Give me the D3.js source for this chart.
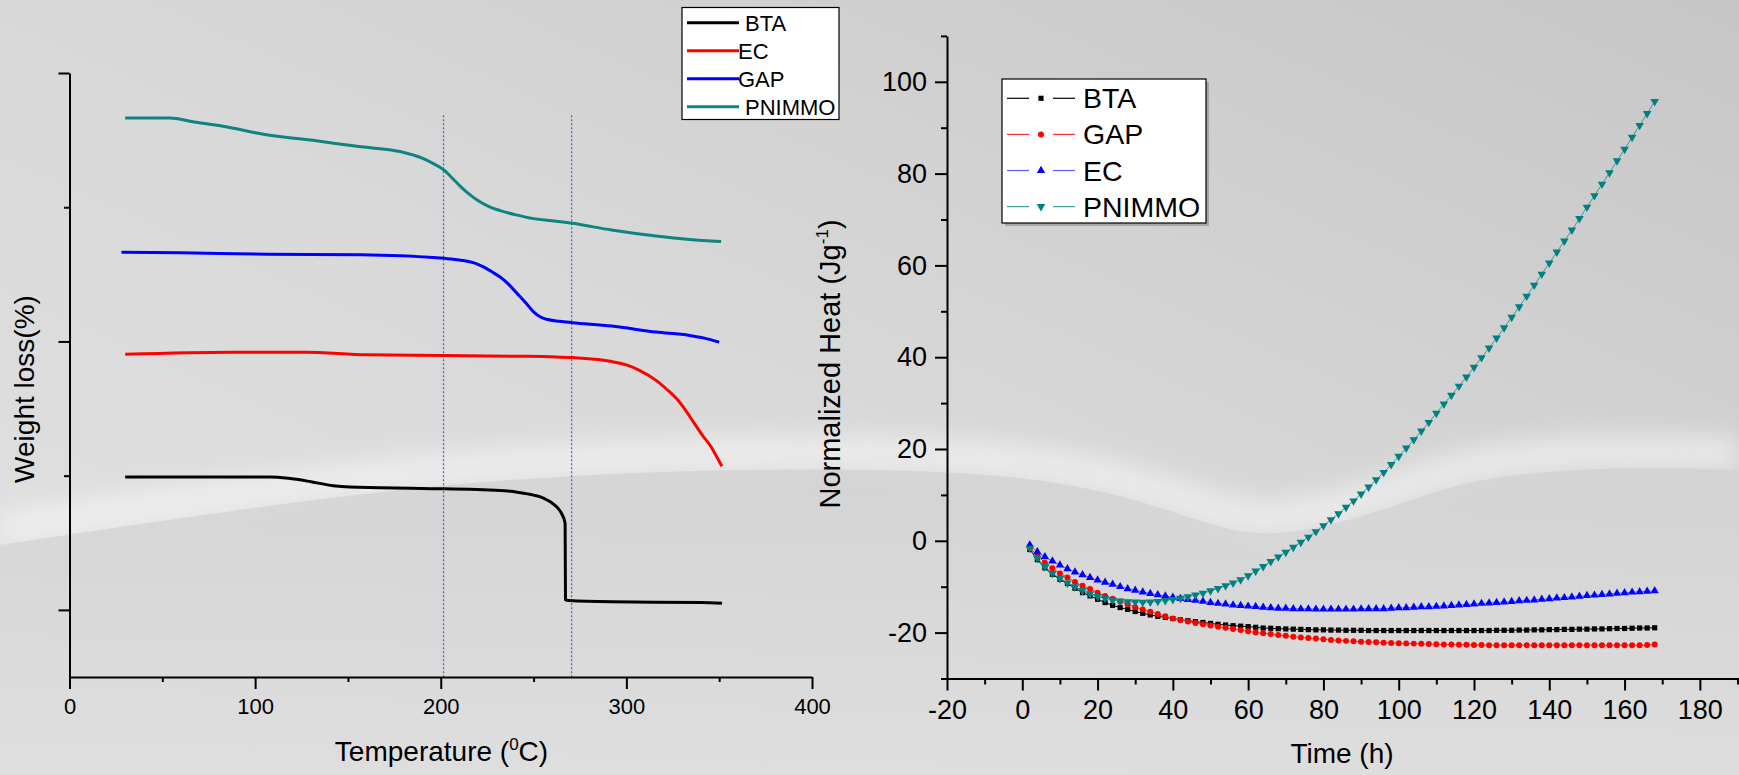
<!DOCTYPE html>
<html>
<head>
<meta charset="utf-8">
<script src="https://cdn.jsdelivr.net/npm/d3@7/dist/d3.min.js"></script>
<style>
  html, body { margin: 0; padding: 0; background: #d8d8d8; }
  svg { display: block; }
  text { font-family: Arial, "Liberation Sans", sans-serif; fill: #000; }
</style>
</head>
<body>
<div id="chart"></div>
<script>
// ---------- left panel: TG curves (y axis has no labels, values are offset units) ----------
var btaTemp   = [30, 108, 118, 130, 142, 151, 190, 232, 242, 250, 255, 259, 263, 265, 267, 267.2, 269, 292, 340, 351.5];
var btaWeight = [29.8, 29.8, 29.6, 29.1, 28.5, 28.3, 28.1, 27.8, 27.5, 27.1, 26.7, 26.1, 25.2, 24.4, 22.9, 11.5, 11.4, 11.2, 11.1, 11.0];

var ecTemp    = [30, 88, 127, 160, 202, 240, 262, 271, 285, 292, 300, 307, 316, 322, 327.6, 332, 336.6, 341, 345.6, 348.5, 351.5];
var ecWeight  = [48.1, 48.4, 48.4, 48.0, 47.9, 47.8, 47.7, 47.6, 47.3, 47.0, 46.5, 45.7, 44.2, 42.8, 41.3, 39.7, 37.8, 36.0, 34.3, 32.9, 31.4];

var gapTemp   = [28, 60, 106, 157, 196, 205, 211, 218, 223, 228, 232, 237, 241, 246, 250, 254, 257, 264, 271, 292, 316, 334, 342, 350];
var gapWeight = [63.3, 63.2, 63.0, 62.9, 62.5, 62.3, 62.1, 61.7, 61.1, 60.3, 59.6, 58.4, 57.2, 55.7, 54.4, 53.6, 53.3, 53.0, 52.8, 52.3, 51.4, 50.9, 50.5, 49.9];

var pnTemp    = [30, 54, 67, 82, 106, 130, 157, 178, 190, 196, 202, 206, 211, 216, 220, 226, 232, 240, 250, 260, 271, 292, 316, 334, 351];
var pnWeight  = [83.3, 83.3, 82.7, 82.1, 80.8, 80.0, 79.0, 78.3, 77.3, 76.5, 75.5, 74.4, 73.0, 71.8, 71.0, 70.1, 69.5, 68.9, 68.3, 68.0, 67.6, 66.6, 65.7, 65.2, 64.9];

var tempTicks   = [0, 100, 200, 300, 400];
var tempMinor   = [50, 150, 250, 350];
var weightMajor = [10, 50, 90];
var weightMinor = [30, 70];
var markTemps   = [201.5, 270.5];   // dotted guide lines
var markTop     = 83.7;

var leftNames  = ["BTA", "EC", "GAP", "PNIMMO"];

// ---------- right panel: normalized heat vs time ----------
var hours = [2, 4, 6, 8, 10, 12, 14, 16, 18, 20,
             22, 24, 26, 28, 30, 32, 34, 36, 38, 40,
             42, 44, 46, 48, 50, 52, 54, 56, 58, 60,
             62, 64, 66, 68, 70, 72, 74, 76, 78, 80,
             82, 84, 86, 88, 90, 92, 94, 96, 98, 100,
             102, 104, 106, 108, 110, 112, 114, 116, 118, 120,
             122, 124, 126, 128, 130, 132, 134, 136, 138, 140,
             142, 144, 146, 148, 150, 152, 154, 156, 158, 160,
             162, 164, 166, 168];

var btaHeat = [-1.9, -4.1, -5.9, -7.3, -8.4, -9.3, -10.35, -11.3, -12.0, -12.75,
               -13.45, -14.05, -14.55, -14.95, -15.4, -15.8, -16.15, -16.45, -16.7, -16.95,
               -17.2, -17.4, -17.6, -17.8, -18.0, -18.2, -18.35, -18.5, -18.6, -18.7,
               -18.85, -19.0, -19.05, -19.15, -19.2, -19.25, -19.3, -19.35, -19.4, -19.4,
               -19.45, -19.45, -19.5, -19.5, -19.5, -19.55, -19.55, -19.55, -19.55, -19.55,
               -19.55, -19.55, -19.55, -19.55, -19.55, -19.55, -19.55, -19.55, -19.55, -19.55,
               -19.55, -19.55, -19.5, -19.5, -19.5, -19.45, -19.45, -19.4, -19.4, -19.35,
               -19.35, -19.3, -19.3, -19.25, -19.25, -19.2, -19.2, -19.15, -19.1, -19.1,
               -19.05, -19.0, -19.0, -18.95];

var gapHeat = [-1.5, -3.2, -4.8, -6.0, -7.1, -8.0, -9.0, -9.8, -10.5, -11.3,
               -12.0, -12.6, -13.2, -13.8, -14.45, -14.95, -15.45, -15.95, -16.45, -16.9,
               -17.25, -17.6, -17.9, -18.2, -18.45, -18.7, -18.95, -19.2, -19.45, -19.7,
               -20.0, -20.15, -20.3, -20.5, -20.7, -20.9, -21.05, -21.2, -21.3, -21.45,
               -21.6, -21.7, -21.8, -21.9, -22.0, -22.05, -22.1, -22.2, -22.25, -22.3,
               -22.35, -22.4, -22.45, -22.5, -22.55, -22.6, -22.6, -22.65, -22.65, -22.7,
               -22.7, -22.75, -22.75, -22.75, -22.75, -22.75, -22.75, -22.75, -22.75, -22.75,
               -22.75, -22.75, -22.75, -22.75, -22.75, -22.75, -22.75, -22.75, -22.75, -22.75,
               -22.75, -22.75, -22.7, -22.6];

var ecHeat  = [-0.9, -2.4, -3.5, -4.4, -5.3, -6.1, -6.8, -7.4, -8.0, -8.55,
               -9.05, -9.5, -10.0, -10.45, -10.8, -11.15, -11.5, -11.75, -12.05, -12.3,
               -12.6, -12.8, -13.0, -13.2, -13.45, -13.65, -13.8, -14.0, -14.1, -14.25,
               -14.35, -14.5, -14.6, -14.7, -14.7, -14.8, -14.85, -14.85, -14.9, -14.9,
               -14.9, -14.9, -14.9, -14.9, -14.85, -14.8, -14.8, -14.8, -14.7, -14.6,
               -14.6, -14.5, -14.4, -14.4, -14.3, -14.2, -14.1, -14.0, -13.9, -13.8,
               -13.65, -13.55, -13.45, -13.35, -13.25, -13.1, -13.0, -12.9, -12.75, -12.65,
               -12.5, -12.4, -12.25, -12.1, -11.95, -11.85, -11.7, -11.6, -11.45, -11.35,
               -11.2, -11.1, -11.0, -10.9];

var pnHeat  = [-1.6, -3.8, -5.6, -7.1, -8.2, -9.2, -10.0, -10.85, -11.55, -12.15,
               -12.55, -12.9, -13.1, -13.25, -13.35, -13.4, -13.35, -13.2, -13.0, -12.8,
               -12.5, -12.2, -11.8, -11.4, -10.9, -10.4, -9.8, -9.2, -8.5, -7.6,
               -6.6, -5.6, -4.5, -3.5, -2.5, -1.4, -0.3, 0.8, 2.0, 3.3,
               4.6, 5.9, 7.3, 8.7, 10.2, 11.7, 13.3, 14.9, 16.6, 18.4,
               20.2, 22.0, 23.9, 25.8, 27.8, 29.8, 31.7, 33.7, 35.7, 37.8,
               39.9, 42.0, 44.2, 46.4, 48.7, 51.0, 53.3, 55.7, 58.1, 60.5,
               62.9, 65.3, 67.7, 70.2, 72.7, 75.2, 77.7, 80.2, 82.8, 85.3,
               87.9, 90.5, 93.1, 95.7];

var timeTicks  = [-20, 0, 20, 40, 60, 80, 100, 120, 140, 160, 180];
var timeMinor  = [-10, 10, 30, 50, 70, 90, 110, 130, 150, 170, 190];
var heatTicks  = [-20, 0, 20, 40, 60, 80, 100];
var heatMinor  = [-30, -10, 10, 30, 50, 70, 90, 110];

var rightNames = ["BTA", "GAP", "EC", "PNIMMO"];


var W = 1739, H = 775;
var svg = d3.select("#chart").append("svg")
    .attr("width", W)
    .attr("height", H);

// ---- background (grey slide with a soft swoosh) ----
var defs = svg.append("defs");
var bg = defs.append("linearGradient").attr("id", "bg")
    .attr("x1", 0).attr("y1", 1).attr("x2", 1).attr("y2", 0);
bg.append("stop").attr("offset", 0).attr("stop-color", "#e2e2e2");
bg.append("stop").attr("offset", 0.5).attr("stop-color", "#d8d8d8");
bg.append("stop").attr("offset", 1).attr("stop-color", "#c6c6c6");

var low = defs.append("linearGradient").attr("id", "low")
    .attr("x1", 0).attr("y1", 0).attr("x2", 0).attr("y2", 1);
low.append("stop").attr("offset", 0).attr("stop-color", "#d3d3d3");
low.append("stop").attr("offset", 1).attr("stop-color", "#dedede");

defs.append("filter").attr("id", "blur")
    .attr("x", "-10%").attr("y", "-50%").attr("width", "120%").attr("height", "200%")
    .append("feGaussianBlur").attr("stdDeviation", 12);

svg.append("rect").attr("width", W).attr("height", H).attr("fill", "url(#bg)");

var swoosh = [[0, 545], [300, 500], [560, 472], [940, 466], [1110, 488], [1220, 530], [1280, 538],
              [1390, 510], [1465, 478], [1610, 466], [1739, 470]];
var edge = d3.line().curve(d3.curveBasis);
// glow above the edge, then the lower band cuts it with a crisp edge
svg.append("path")
    .attr("d", edge(swoosh.map(function(p) { return [p[0], p[1] - 16]; })))
    .attr("fill", "none")
    .attr("stroke", "#f8f8f8")
    .attr("stroke-width", 34)
    .attr("opacity", 0.6)
    .attr("filter", "url(#blur)");
svg.append("path")
    .attr("d", edge(swoosh) + "L1739,775L0,775Z")
    .attr("fill", "url(#low)")
    .attr("opacity", 0.85);

// =================== LEFT PANEL ===================
var xL = d3.scaleLinear().domain([0, 400]).range([69.5, 812]);
var yL = d3.scaleLinear().domain([0, 90]).range([677, 73]);

var left = svg.append("g");

// dotted guides
left.selectAll(".guide").data(markTemps)
    .enter().append("line")
    .attr("x1", function(d) { return xL(d); })
    .attr("x2", function(d) { return xL(d); })
    .attr("y1", yL(markTop))
    .attr("y2", yL(0))
    .attr("stroke", "#3f6fbf")
    .attr("stroke-width", 1.3)
    .attr("stroke-dasharray", "2,2");

// axes
var gx = left.append("g").attr("transform", "translate(0," + yL(0) + ")")
    .call(d3.axisBottom(xL).tickValues(tempTicks).tickSize(12).tickPadding(9).tickSizeOuter(0));
left.append("g").attr("transform", "translate(0," + yL(0) + ")")
    .call(d3.axisBottom(xL).tickValues(tempMinor).tickSize(5).tickFormat("").tickSizeOuter(0))
    .select(".domain").remove();
var gy = left.append("g").attr("transform", "translate(" + xL(0) + ",0)")
    .call(d3.axisLeft(yL).tickValues(weightMajor).tickSize(11).tickFormat("").tickSizeOuter(0));
left.append("g").attr("transform", "translate(" + xL(0) + ",0)")
    .call(d3.axisLeft(yL).tickValues(weightMinor).tickSize(5.5).tickFormat("").tickSizeOuter(0))
    .select(".domain").remove();

gx.selectAll("text").style("font-size", "22px").attr("font-family", null);
left.selectAll(".domain, .tick line").attr("stroke", "#000").attr("stroke-width", 2);

// curves
var leftSeries = [
    {name: "BTA",    t: btaTemp, w: btaWeight, color: "#000000"},
    {name: "EC",     t: ecTemp,  w: ecWeight,  color: "#ff0000"},
    {name: "GAP",    t: gapTemp, w: gapWeight, color: "#0000ff"},
    {name: "PNIMMO", t: pnTemp,  w: pnWeight,  color: "#0d8480"}
];
var tgLine = d3.line()
    .curve(d3.curveMonotoneX)
    .x(function(d) { return xL(d[0]); })
    .y(function(d) { return yL(d[1]); });

left.selectAll(".tg").data(leftSeries)
    .enter().append("path")
    .attr("class", "tg")
    .attr("fill", "none")
    .attr("stroke", function(d) { return d.color; })
    .attr("stroke-width", 3)
    .attr("stroke-linejoin", "round")
    .attr("d", function(d) { return tgLine(d.t.map(function(v, i) { return [v, d.w[i]]; })); });

// titles
left.append("text")
    .attr("x", 441.5).attr("y", 761)
    .attr("text-anchor", "middle")
    .style("font-size", "28px")
    .html('Temperature (<tspan dy="-11" style="font-size:17px">0</tspan><tspan dy="11">C)</tspan>');
left.append("text")
    .attr("transform", "translate(34,389) rotate(-90)")
    .attr("text-anchor", "middle")
    .style("font-size", "28px")
    .text("Weight loss(%)");

// legend
var lg = left.append("g");
lg.append("rect")
    .attr("x", 682).attr("y", 7.5).attr("width", 157).attr("height", 112)
    .attr("fill", "#fff").attr("stroke", "#000").attr("stroke-width", 1.2);
var lgItem = lg.selectAll(".li").data(leftNames)
    .enter().append("g")
    .attr("transform", function(d, i) { return "translate(0," + (22.7 + i * 28) + ")"; });
lgItem.append("line")
    .attr("x1", 687).attr("x2", 739)
    .attr("stroke", function(d, i) { return leftSeries[i].color; })
    .attr("stroke-width", 3);
lgItem.append("text")
    .attr("x", function(d) { return (d == "EC" || d == "GAP") ? 738 : 745; })
    .attr("y", 8)
    .style("font-size", "22px")
    .text(function(d) { return d; });

// =================== RIGHT PANEL ===================
var xR = d3.scaleLinear().domain([-20, 190.4]).range([947, 1739]);
var yR = d3.scaleLinear().domain([-30, 110]).range([678.5, 35.9]);

var right = svg.append("g");
var plain = function(d) { return String(d); };   // hyphen minus like the original

var rx = right.append("g").attr("transform", "translate(0," + yR(-30) + ")")
    .call(d3.axisBottom(xR).tickValues(timeTicks).tickFormat(plain).tickSize(12).tickPadding(9).tickSizeOuter(0));
right.append("g").attr("transform", "translate(0," + yR(-30) + ")")
    .call(d3.axisBottom(xR).tickValues(timeMinor).tickSize(6).tickFormat("").tickSizeOuter(0))
    .select(".domain").remove();
var ry = right.append("g").attr("transform", "translate(" + xR(-20) + ",0)")
    .call(d3.axisLeft(yR).tickValues(heatTicks).tickFormat(plain).tickSize(12).tickPadding(8).tickSizeOuter(0));
right.append("g").attr("transform", "translate(" + xR(-20) + ",0)")
    .call(d3.axisLeft(yR).tickValues(heatMinor).tickSize(6).tickFormat("").tickSizeOuter(0))
    .select(".domain").remove();

right.selectAll("text").style("font-size", "27px").attr("font-family", null);
right.selectAll(".domain, .tick line").attr("stroke", "#000").attr("stroke-width", 2);

var rightSeries = [
    {name: "BTA",    v: btaHeat, color: "#000000", line: "#000000", sym: d3.symbolSquare,   size: 27, rot: 0},
    {name: "GAP",    v: gapHeat, color: "#ff0000", line: "#ff3030", sym: d3.symbolCircle,   size: 28, rot: 0},
    {name: "EC",     v: ecHeat,  color: "#0000ff", line: "#5a5aff", sym: d3.symbolTriangle, size: 30, rot: 0},
    {name: "PNIMMO", v: pnHeat,  color: "#008080", line: "#3a9c9c", sym: d3.symbolTriangle, size: 32, rot: 180}
];

var heatLine = d3.line()
    .x(function(d, i) { return xR(hours[i]); })
    .y(function(d) { return yR(d); });

var sg = right.selectAll(".ser").data(rightSeries)
    .enter().append("g").attr("class", "ser");
sg.append("path")
    .attr("fill", "none")
    .attr("stroke", function(d) { return d.line; })
    .attr("stroke-width", 1)
    .attr("d", function(d) { return heatLine(d.v); });
sg.each(function(s) {
    d3.select(this).selectAll(".pt").data(s.v)
        .enter().append("path")
        .attr("transform", function(d, i) {
            return "translate(" + xR(hours[i]) + "," + yR(d) + ") rotate(" + s.rot + ")";
        })
        .attr("d", d3.symbol().type(s.sym).size(s.size))
        .attr("fill", s.color);
});

// titles
right.append("text")
    .attr("x", 1342).attr("y", 763)
    .attr("text-anchor", "middle")
    .style("font-size", "28px")
    .text("Time (h)");
right.append("text")
    .attr("transform", "translate(840,364) rotate(-90)")
    .attr("text-anchor", "middle")
    .style("font-size", "29px")
    .html('Normalized Heat (Jg<tspan dy="-12" style="font-size:17px">-1</tspan><tspan dy="12">)</tspan>');

// legend
var rl = right.append("g");
rl.append("rect")
    .attr("x", 1005).attr("y", 82).attr("width", 204).attr("height", 144)
    .attr("fill", "#8a8a8a").attr("opacity", 0.6);
rl.append("rect")
    .attr("x", 1002).attr("y", 79).attr("width", 204).attr("height", 144)
    .attr("fill", "#fff").attr("stroke", "#000").attr("stroke-width", 1.2);
var rlItem = rl.selectAll(".ri").data(rightSeries)
    .enter().append("g")
    .attr("transform", function(d, i) { return "translate(0," + (98.3 + i * 36.1) + ")"; });
rlItem.append("line").attr("x1", 1007).attr("x2", 1029)
    .attr("stroke", function(d) { return d.line; }).attr("stroke-width", 1.2);
rlItem.append("line").attr("x1", 1053).attr("x2", 1075)
    .attr("stroke", function(d) { return d.line; }).attr("stroke-width", 1.2);
rlItem.append("path")
    .attr("transform", function(d) { return "translate(1041,0) rotate(" + d.rot + ")"; })
    .attr("d", function(d) { return d3.symbol().type(d.sym).size(d.size)(); })
    .attr("fill", function(d) { return d.color; });
rlItem.append("text")
    .attr("x", 1083).attr("y", 10)
    .style("font-size", "28.5px")
    .text(function(d) { return d.name; });
</script>
</body>
</html>
